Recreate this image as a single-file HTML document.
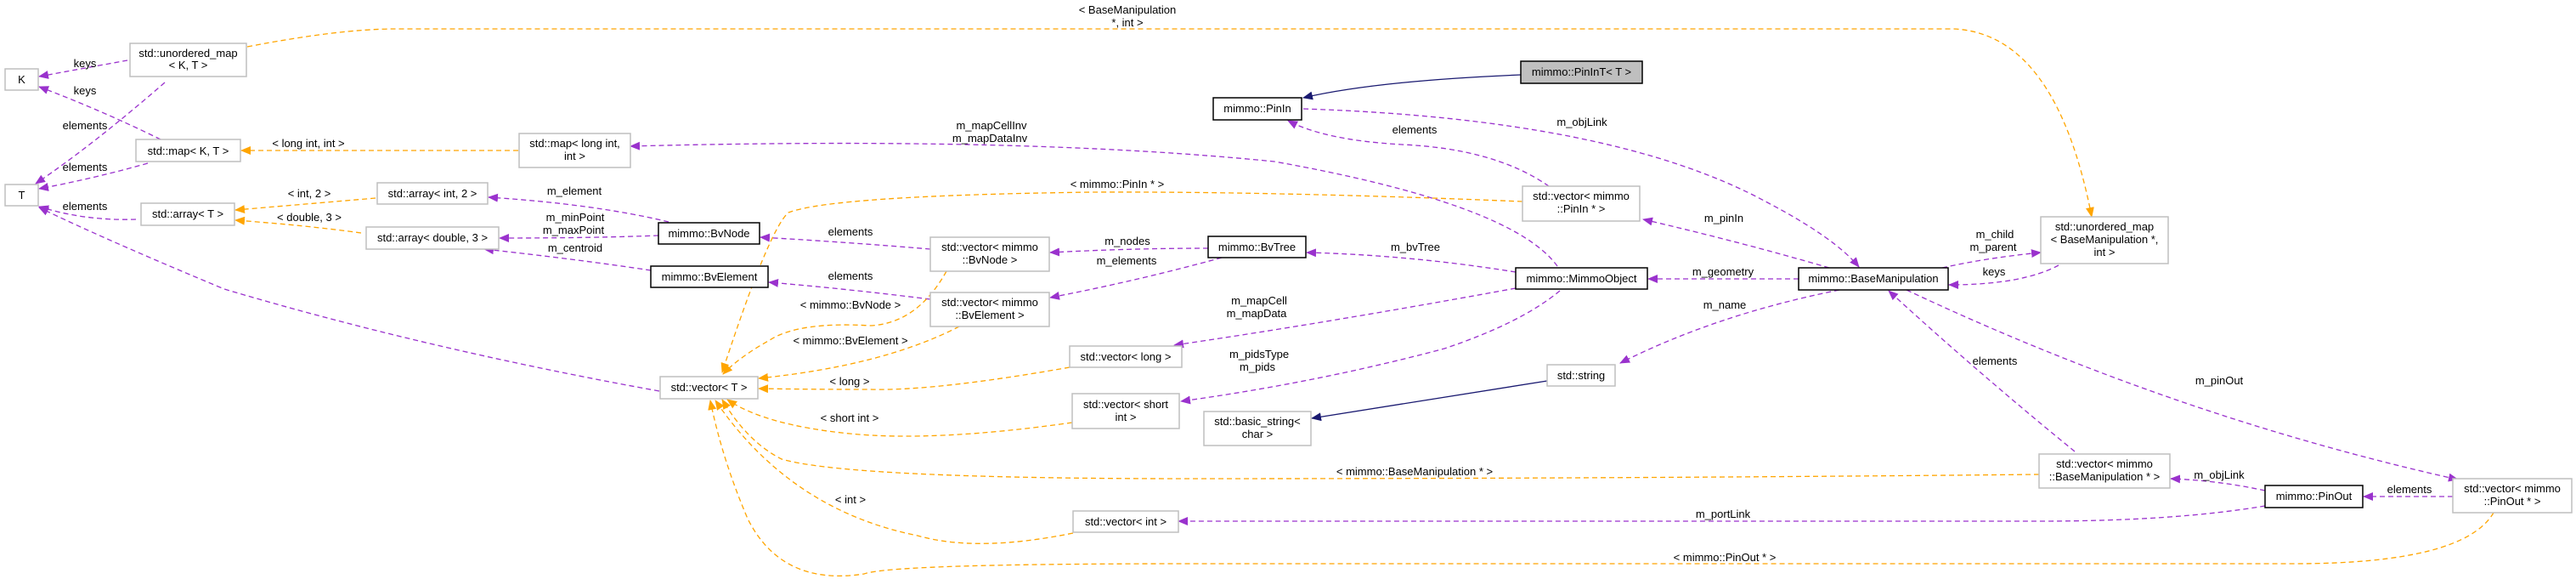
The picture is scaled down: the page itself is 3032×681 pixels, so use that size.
<!DOCTYPE html>
<html><head><meta charset="utf-8"><style>
html,body{margin:0;padding:0;background:#fff;}
svg{display:block;}
text{font-family:"Liberation Sans",sans-serif;font-size:13px;fill:#000;}
.b{fill:#fff;stroke:#bfbfbf;stroke-width:1.5}
.d{fill:#fff;stroke:#000;stroke-width:1.5}
.p{fill:none;stroke:#9a32cd;stroke-width:1.3;stroke-dasharray:6,4;marker-end:url(#mp)}
.o{fill:none;stroke:#ffa500;stroke-width:1.3;stroke-dasharray:6,4;marker-end:url(#mo)}
.n{fill:none;stroke:#191970;stroke-width:1.3;marker-end:url(#mn)}
</style></head><body>
<svg width="3032" height="681" viewBox="0 0 3032 681" xmlns="http://www.w3.org/2000/svg">
<defs>
<marker id="mp" markerWidth="12" markerHeight="10" refX="11" refY="5" orient="auto" markerUnits="userSpaceOnUse"><path d="M0,0 L12,5 L0,10 z" fill="#9a32cd"/></marker>
<marker id="mo" markerWidth="12" markerHeight="10" refX="11" refY="5" orient="auto" markerUnits="userSpaceOnUse"><path d="M0,0 L12,5 L0,10 z" fill="#ffa500"/></marker>
<marker id="mn" markerWidth="12" markerHeight="10" refX="11" refY="5" orient="auto" markerUnits="userSpaceOnUse"><path d="M0,0 L12,5 L0,10 z" fill="#191970"/></marker>
</defs>

<!-- edges -->
<path class="p" d="M150,71 Q100,80 46,90"/>
<path class="p" d="M189,164 Q120,130 46,102"/>
<path class="p" d="M194,97 Q110,170 42,216"/>
<path class="p" d="M174,192 Q110,210 46,222"/>
<path class="p" d="M160,258 Q100,260 46,243"/>
<path class="p" d="M776,460 Q500,410 264,340 Q120,280 46,244"/>
<path class="o" d="M291,55 Q400,34 465,34 L2300,34 Q2420,40 2462,255" />
<path class="o" d="M610,177 L284,177"/>
<path class="o" d="M442,233 Q360,240 277,247"/>
<path class="o" d="M425,274 Q360,265 277,259"/>
<path class="p" d="M787,261 Q700,240 575,232"/>
<path class="p" d="M775,277 Q700,280 588,280"/>
<path class="p" d="M766,318 Q680,305 570,293"/>
<path class="p" d="M1095,293 Q1000,285 895,279"/>
<path class="p" d="M1095,352 Q1000,340 905,332"/>
<path class="p" d="M1422,292 Q1330,292 1236,297"/>
<path class="p" d="M1438,303 Q1340,330 1236,350"/>
<path class="p" d="M1784,320 Q1660,300 1538,297"/>
<path class="p" d="M1833,313 Q1780,240 1500,190 Q1200,160 742,172"/>
<path class="n" d="M1790,88 Q1620,95 1534,115"/>
<path class="p" d="M1534,128 Q1900,140 2080,238 Q2160,280 2188,314"/>
<path class="p" d="M1823,219 Q1760,175 1650,170 Q1560,165 1516,142"/>
<path class="o" d="M1792,237 Q1500,225 1286,226 Q980,230 928,250 Q905,270 850,438"/>
<path class="p" d="M2153,315 Q2050,285 1934,258"/>
<path class="o" d="M1114,319 Q1080,380 1025,383 Q940,378 906,400 Q870,420 851,440"/>
<path class="o" d="M1129,384 Q1040,430 893,445"/>
<path class="o" d="M1259,432 Q1100,460 1025,458 Q950,458 893,457"/>
<path class="o" d="M1262,497 Q1100,520 1000,510 Q900,500 856,470"/>
<path class="o" d="M2400,558 Q1900,563 1400,563 Q1000,563 920,540 Q880,520 850,470"/>
<path class="o" d="M1263,627 Q1150,650 1080,630 Q930,600 842,471"/>
<path class="o" d="M2935,603 Q2900,663 2700,663 L1400,663 Q1050,663 1017,675 Q920,690 880,610 Q850,540 836,471"/>
<path class="p" d="M1784,339 Q1560,380 1382,406"/>
<path class="p" d="M1836,342 Q1790,380 1700,410 Q1550,450 1390,472"/>
<path class="p" d="M2117,328 L1940,328"/>
<path class="p" d="M2165,341 Q2020,370 1907,427"/>
<path class="n" d="M1821,448 Q1680,470 1544,492"/>
<path class="p" d="M2286,315 Q2340,303 2402,297"/>
<path class="p" d="M2423,312 Q2380,335 2294,335"/>
<path class="p" d="M2442,531 Q2330,440 2223,342"/>
<path class="p" d="M2244,341 Q2560,490 2893,564"/>
<path class="p" d="M2666,577 Q2610,565 2555,563"/>
<path class="p" d="M2887,584 L2782,584"/>
<path class="p" d="M2666,595 Q2560,613 2400,613 L1387,613"/>

<!-- nodes -->
<rect class="b" x="6" y="81" width="39" height="25"/><text x="25.5" y="98" text-anchor="middle">K</text>
<rect class="b" x="6" y="217" width="39" height="25"/><text x="25.5" y="234" text-anchor="middle">T</text>
<rect class="b" x="153" y="51" width="137" height="39"/><text x="221.5" y="67" text-anchor="middle">std::unordered_map</text><text x="221.5" y="81" text-anchor="middle">&lt; K, T &gt;</text>
<rect class="b" x="160" y="164" width="123" height="26"/><text x="221.5" y="182" text-anchor="middle">std::map&lt; K, T &gt;</text>
<rect class="b" x="166" y="239" width="110" height="26"/><text x="221" y="256" text-anchor="middle">std::array&lt; T &gt;</text>
<rect class="b" x="611" y="157" width="131" height="40"/><text x="676.5" y="173" text-anchor="middle">std::map&lt; long int,</text><text x="676.5" y="188" text-anchor="middle">int &gt;</text>
<rect class="b" x="444" y="215" width="130" height="25"/><text x="509" y="232" text-anchor="middle">std::array&lt; int, 2 &gt;</text>
<rect class="b" x="431" y="267" width="156" height="26"/><text x="509" y="284" text-anchor="middle">std::array&lt; double, 3 &gt;</text>
<rect class="d" x="775" y="262" width="119" height="25"/><text x="834.5" y="279" text-anchor="middle">mimmo::BvNode</text>
<rect class="d" x="766" y="313" width="138" height="25"/><text x="835" y="330" text-anchor="middle">mimmo::BvElement</text>
<rect class="b" x="1095" y="279" width="140" height="40"/><text x="1165" y="295" text-anchor="middle">std::vector&lt; mimmo</text><text x="1165" y="310" text-anchor="middle">::BvNode &gt;</text>
<rect class="b" x="1095" y="344" width="140" height="40"/><text x="1165" y="360" text-anchor="middle">std::vector&lt; mimmo</text><text x="1165" y="375" text-anchor="middle">::BvElement &gt;</text>
<rect class="b" x="777" y="443" width="115" height="26"/><text x="834.5" y="460" text-anchor="middle">std::vector&lt; T &gt;</text>
<rect class="b" x="1259" y="407" width="132" height="25"/><text x="1325" y="424" text-anchor="middle">std::vector&lt; long &gt;</text>
<rect class="b" x="1262" y="463" width="126" height="41"/><text x="1325" y="480" text-anchor="middle">std::vector&lt; short</text><text x="1325" y="495" text-anchor="middle">int &gt;</text>
<rect class="b" x="1263" y="601" width="124" height="25"/><text x="1325" y="618" text-anchor="middle">std::vector&lt; int &gt;</text>
<rect class="b" x="1417" y="484" width="126" height="40"/><text x="1480" y="500" text-anchor="middle">std::basic_string&lt;</text><text x="1480" y="515" text-anchor="middle">char &gt;</text>
<rect class="b" x="1821" y="429" width="80" height="25"/><text x="1861" y="446" text-anchor="middle">std::string</text>
<rect class="d" x="1784" y="315" width="155" height="25"/><text x="1861.5" y="332" text-anchor="middle">mimmo::MimmoObject</text>
<rect class="d" x="1422" y="278" width="115" height="25"/><text x="1479.5" y="295" text-anchor="middle">mimmo::BvTree</text>
<rect class="d" x="1428" y="115" width="104" height="26"/><text x="1480" y="132" text-anchor="middle">mimmo::PinIn</text>
<rect x="1790" y="72" width="143" height="26" fill="#bfbfbf" stroke="#000" stroke-width="1.5"/><text x="1861.5" y="89" text-anchor="middle">mimmo::PinInT&lt; T &gt;</text>
<rect class="b" x="1792" y="219" width="138" height="41"/><text x="1861" y="235" text-anchor="middle">std::vector&lt; mimmo</text><text x="1861" y="250" text-anchor="middle">::PinIn * &gt;</text>
<rect class="d" x="2117" y="315" width="176" height="26"/><text x="2205" y="332" text-anchor="middle">mimmo::BaseManipulation</text>
<rect class="b" x="2402" y="255" width="150" height="55"/><text x="2477" y="271" text-anchor="middle">std::unordered_map</text><text x="2477" y="286" text-anchor="middle">&lt; BaseManipulation *,</text><text x="2477" y="301" text-anchor="middle">int &gt;</text>
<rect class="b" x="2400" y="534" width="154" height="40"/><text x="2477" y="550" text-anchor="middle">std::vector&lt; mimmo</text><text x="2477" y="565" text-anchor="middle">::BaseManipulation * &gt;</text>
<rect class="d" x="2666" y="571" width="115" height="26"/><text x="2723.5" y="588" text-anchor="middle">mimmo::PinOut</text>
<rect class="b" x="2887" y="563" width="140" height="40"/><text x="2957" y="579" text-anchor="middle">std::vector&lt; mimmo</text><text x="2957" y="594" text-anchor="middle">::PinOut * &gt;</text>

<!-- labels -->
<g text-anchor="middle">
<text x="100" y="79">keys</text>
<text x="100" y="111">keys</text>
<text x="100" y="152">elements</text>
<text x="100" y="201">elements</text>
<text x="100" y="247">elements</text>
<text x="363" y="173">&lt; long int, int &gt;</text>
<text x="364" y="232">&lt; int, 2 &gt;</text>
<text x="364" y="260">&lt; double, 3 &gt;</text>
<text x="676" y="229">m_element</text>
<text x="677" y="260">m_minPoint</text>
<text x="675" y="275">m_maxPoint</text>
<text x="677" y="296">m_centroid</text>
<text x="1001" y="277">elements</text>
<text x="1001" y="329">elements</text>
<text x="1001" y="363">&lt; mimmo::BvNode &gt;</text>
<text x="1001" y="405">&lt; mimmo::BvElement &gt;</text>
<text x="1000" y="453">&lt; long &gt;</text>
<text x="1000" y="496">&lt; short int &gt;</text>
<text x="1001" y="592">&lt; int &gt;</text>
<text x="1315" y="221">&lt; mimmo::PinIn * &gt;</text>
<text x="1482" y="358">m_mapCell</text>
<text x="1479" y="373">m_mapData</text>
<text x="1482" y="421">m_pidsType</text>
<text x="1480" y="436">m_pids</text>
<text x="2030" y="363">m_name</text>
<text x="1665" y="559">&lt; mimmo::BaseManipulation * &gt;</text>
<text x="2028" y="609">m_portLink</text>
<text x="2030" y="660">&lt; mimmo::PinOut * &gt;</text>
<text x="1327" y="16">&lt; BaseManipulation</text>
<text x="1327" y="31">*, int &gt;</text>
<text x="1167" y="152">m_mapCellInv</text>
<text x="1165" y="167">m_mapDataInv</text>
<text x="1862" y="148">m_objLink</text>
<text x="1665" y="157">elements</text>
<text x="2029" y="261">m_pinIn</text>
<text x="1327" y="288">m_nodes</text>
<text x="1326" y="311">m_elements</text>
<text x="1666" y="295">m_bvTree</text>
<text x="2028" y="324">m_geometry</text>
<text x="2348" y="280">m_child</text>
<text x="2346" y="295">m_parent</text>
<text x="2347" y="324">keys</text>
<text x="2348" y="429">elements</text>
<text x="2612" y="452">m_pinOut</text>
<text x="2612" y="563">m_objLink</text>
<text x="2836" y="580">elements</text>
</g>
</svg>
</body></html>
